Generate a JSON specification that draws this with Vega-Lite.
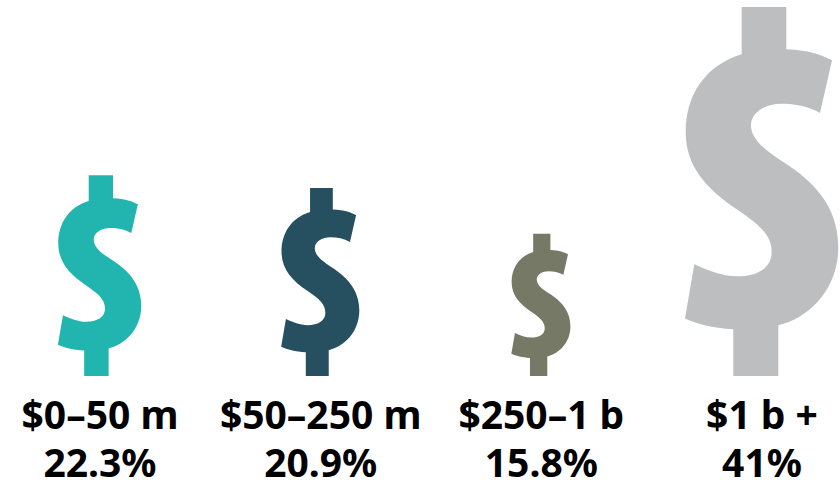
{
  "$schema": "https://vega.github.io/schema/vega-lite/v6.json",
  "width": 840,
  "height": 376,
  "autosize": "none",
  "padding": {"left": 0, "top": 0, "right": 0, "bottom": 104},
  "background": "white",
  "view": {"stroke": null},
  "data": {"values": [
    {"label": "$0–50 m|22.3%", "share": 22.3},
    {"label": "$50–250 m|20.9%", "share": 20.9},
    {"label": "$250–1 b|15.8%", "share": 15.8},
    {"label": "$1 b +|41%", "share": 41}
  ]},
  "mark": {
    "type": "point",
    "filled": true,
    "opacity": 1,
    "strokeWidth": 0,
    "shape": "M-0.0537,-1 L0.0672,-1 L0.0672,-0.8854 C0.1314,-0.8827,0.164,-0.869,0.1911,-0.8556 L0.1585,-0.7127 C0.126,-0.7309,0.0908,-0.7375,0.0547,-0.7375 C0.0095,-0.7375,-0.0285,-0.715,-0.0285,-0.6794 C-0.0285,-0.6388,0.0149,-0.6089,0.0591,-0.58 C0.1369,-0.5304,0.2081,-0.4626,0.2081,-0.3496 C0.2081,-0.232,0.126,-0.1564,0.0455,-0.1374 L0.0455,0 L-0.0764,0 L-0.0764,-0.1266 C-0.1341,-0.1293,-0.1748,-0.1415,-0.2073,-0.1556 L-0.1821,-0.3027 C-0.145,-0.2864,-0.107,-0.2702,-0.0672,-0.2702 C-0.0122,-0.2702,0.0276,-0.2919,0.0276,-0.336 C0.0276,-0.3813,-0.0041,-0.4084,-0.0629,-0.449 C-0.1531,-0.5087,-0.2054,-0.5707,-0.2054,-0.6612 C-0.2054,-0.7598,-0.1531,-0.842,-0.0537,-0.8718 Z"
  },
  "encoding": {
    "x": {
      "field": "label",
      "type": "nominal",
      "sort": null,
      "title": null,
      "scale": {"type": "point", "range": [99.5, 761.5], "padding": 0},
      "axis": {
        "domain": false,
        "ticks": false,
        "grid": false,
        "labelAngle": 0,
        "labelExpr": "split(datum.value, '|')",
        "labelFont": "Noto Sans",
        "labelFontWeight": "bold",
        "labelFontSize": 39,
        "labelColor": "#000000",
        "labelPadding": 21,
        "labelLineHeight": 48,
        "labelOverlap": false,
        "labelLimit": 400
      }
    },
    "y": {"datum": 0, "type": "quantitative", "scale": {"domain": [0, 1]}, "axis": null},
    "size": {
      "field": "share",
      "type": "quantitative",
      "scale": {"type": "pow", "exponent": 2, "domain": [0, 41], "range": [0, 544644]},
      "legend": null
    },
    "fill": {
      "field": "label",
      "type": "nominal",
      "sort": null,
      "scale": {"range": ["#22B5B0", "#26505F", "#767966", "#BCBEC0"]},
      "legend": null
    }
  }
}
